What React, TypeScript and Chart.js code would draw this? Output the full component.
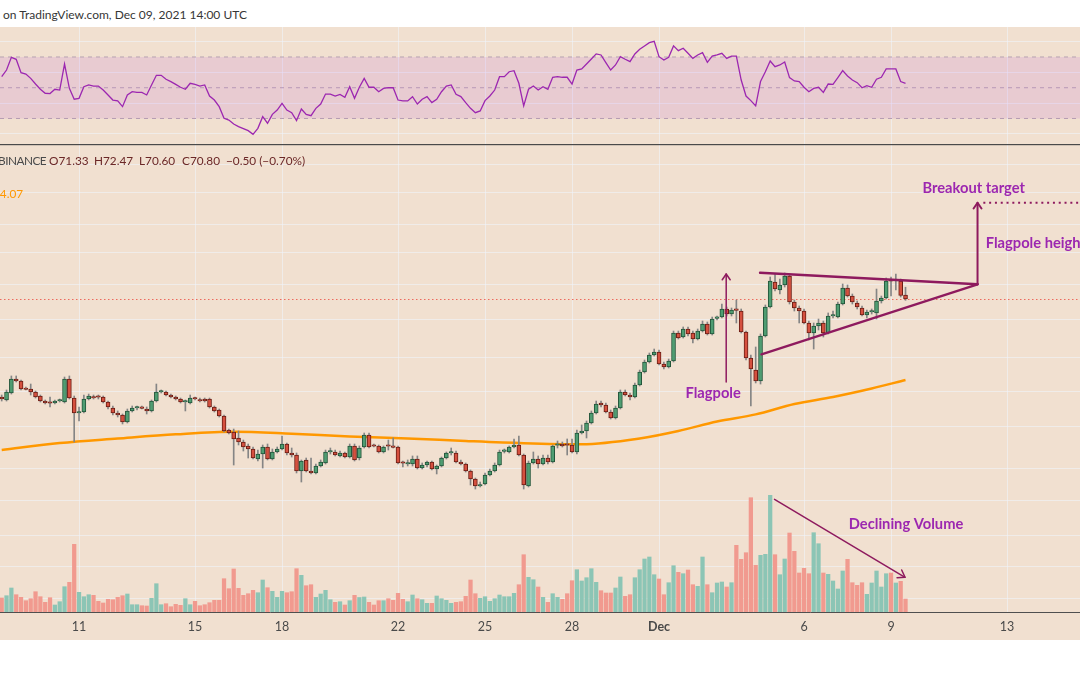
import React, { useEffect, useRef } from "react";
import { Chart, registerables } from "chart.js";

Chart.register(...registerables);

// ---- 4h candles, LUNA/USDT-like, from Nov 8 08:00 to Dec 9 12:00 (index 0..187) ----
const candleOpen = [
  56.79, 56.36, 57.36, 59.36, 59.07, 57.93, 57.93, 57.5, 56.93, 56.21,
  55.93, 55.93, 56.21, 56.07, 59.36, 56.64, 54.5, 54.64, 56.5, 56.79,
  56.79, 56.79, 56.07, 55.21, 54.5, 54.21, 53.21, 54.79, 55.21, 55.21,
  55.07, 54.79, 56.21, 57.5, 57.5, 57.07, 56.79, 56.5, 56.07, 55.93,
  56.64, 56.36, 56.5, 56.5, 55.36, 54.93, 54.07, 52.07, 51.79, 50.93,
  50.36, 49.79, 49.36, 47.93, 48.64, 49.64, 47.93, 48.93, 49.36, 50.07,
  48.79, 48.5, 46.21, 47.79, 46.21, 45.93, 46.93, 47.36, 48.93, 48.93,
  48.36, 48.79, 48.21, 49.79, 48.07, 49.64, 51.36, 49.79, 49.79, 48.93,
  49.79, 49.64, 49.64, 47.36, 47.21, 47.21, 47.93, 46.64, 47.07, 47.5,
  46.5, 46.93, 48.07, 48.79, 48.79, 47.5, 47.21, 46.21, 45.07, 44.07,
  44.36, 45.64, 46.21, 47.07, 49.02, 48.93, 49.64, 49.93, 48.5, 44.07,
  47.36, 47.93, 47.21, 48.07, 47.5, 49.89, 50.07, 49.93, 49.93, 48.93,
  51.64, 51.93, 53.07, 54.5, 55.93, 55.64, 54.64, 53.79, 55.21, 57.5,
  57.07, 56.79, 58.5, 60.36, 61.79, 62.79, 63.21, 61.5, 61.07, 61.93,
  65.93, 65.36, 66.5, 65.93, 65.07, 66.21, 67.21, 65.79, 68.02, 68.21,
  69.36, 68.64, 69.21, 69.07, 66.07, 62.36, 60.64, 59.07, 65.5, 69.64,
  73.21, 72.07, 72.79, 74.07, 70.36, 69.5, 69.07, 67.36, 65.93, 66.93,
  67.36, 65.93, 68.36, 68.21, 70.07, 72.36, 71.21, 70.21, 69.5, 68.5,
  68.93, 68.79, 70.5, 70.93, 73.36, 73.36, 73.36, 71.33,
];
const candleHigh = [
  57.07, 57.79, 59.79, 59.79, 59.21, 58.21, 58.64, 57.64, 57.07, 56.36,
  56.79, 56.36, 56.5, 59.64, 59.79, 56.93, 55.36, 57.07, 57.21, 57.07,
  57.07, 56.93, 56.21, 55.5, 54.79, 54.36, 55.07, 55.5, 55.5, 55.5,
  55.36, 56.36, 58.64, 57.79, 57.64, 57.21, 56.93, 56.64, 56.36, 57.07,
  56.79, 56.64, 56.64, 56.64, 55.5, 55.07, 54.21, 52.21, 52.21, 51.93,
  50.64, 50.07, 49.64, 49.21, 49.93, 50.07, 49.36, 49.64, 51.21, 50.21,
  49.5, 48.79, 47.79, 48.07, 48.07, 47.21, 47.79, 49.21, 49.5, 49.21,
  49.07, 48.93, 50.07, 50.07, 49.79, 51.64, 51.64, 50.07, 49.93, 49.79,
  50.64, 50.93, 49.79, 47.64, 47.79, 48.36, 48.36, 47.36, 47.64, 47.64,
  47.07, 48.21, 48.93, 49.5, 49.07, 47.79, 47.36, 46.36, 45.21, 44.64,
  45.93, 46.5, 47.36, 49.21, 49.36, 49.79, 50.79, 51.21, 48.64, 47.64,
  48.93, 48.36, 48.5, 48.5, 49.93, 50.5, 50.36, 50.79, 50.79, 52.07,
  52.79, 53.36, 54.79, 56.21, 56.21, 55.93, 54.93, 55.5, 57.79, 57.79,
  57.36, 58.79, 60.64, 62.07, 63.07, 63.64, 63.5, 61.79, 62.21, 66.21,
  66.21, 66.79, 66.79, 66.21, 66.5, 67.64, 67.5, 68.21, 68.36, 70.07,
  69.64, 69.5, 70.64, 69.36, 66.21, 62.79, 63.93, 65.79, 69.93, 73.93,
  74.36, 73.64, 74.5, 74.36, 70.64, 69.79, 69.36, 67.64, 67.36, 67.93,
  67.64, 68.79, 69.07, 70.36, 72.93, 72.79, 71.5, 70.5, 69.79, 69.21,
  69.36, 72.21, 71.21, 73.79, 73.93, 74.36, 73.64, 72.47,
];
const candleLow = [
  56.21, 56.21, 57.21, 58.93, 57.79, 57.79, 57.07, 56.64, 56.07, 55.79,
  55.36, 55.79, 56.07, 55.93, 56.5, 50.36, 53.36, 54.5, 56.36, 56.5,
  56.5, 55.93, 55.07, 54.21, 53.93, 52.93, 53.07, 54.64, 54.93, 55.07,
  54.36, 54.64, 56.07, 57.36, 56.93, 56.64, 56.36, 55.93, 54.79, 55.79,
  56.36, 56.07, 56.07, 55.21, 54.64, 53.93, 51.79, 51.5, 47.07, 49.93,
  49.07, 48.07, 47.93, 47.64, 46.64, 47.79, 47.79, 48.79, 49.21, 48.5,
  48.21, 45.93, 44.64, 46.07, 45.79, 45.79, 46.79, 47.21, 48.64, 48.36,
  48.21, 48.07, 48.07, 47.64, 47.79, 49.5, 49.5, 49.64, 48.79, 48.79,
  49.21, 49.5, 47.21, 46.79, 46.93, 46.93, 46.5, 46.5, 46.79, 46.36,
  45.79, 46.79, 47.93, 48.5, 47.36, 47.07, 46.07, 44.21, 43.64, 43.93,
  44.21, 45.5, 46.07, 46.93, 48.79, 48.79, 49.5, 48.36, 43.64, 43.93,
  47.21, 46.64, 47.07, 47.21, 47.36, 49.5, 49.64, 48.5, 48.79, 48.64,
  51.5, 50.93, 52.93, 54.36, 55.36, 54.5, 53.64, 53.64, 55.07, 56.93,
  56.36, 56.64, 58.36, 60.21, 61.64, 62.64, 61.36, 60.79, 60.93, 61.79,
  65.07, 65.21, 65.5, 64.5, 64.93, 66.07, 65.64, 65.64, 67.79, 68.07,
  68.36, 68.36, 67.36, 65.93, 62.07, 55.5, 58.79, 58.64, 65.36, 69.5,
  71.93, 71.5, 72.5, 70.07, 69.07, 67.36, 67.21, 64.93, 63.64, 66.36,
  65.36, 65.79, 68.07, 68.07, 69.93, 71.07, 70.07, 69.36, 68.36, 68.07,
  68.64, 67.93, 70.21, 70.79, 71.21, 72.07, 71.07, 70.6,
];
const candleClose = [
  56.5, 57.5, 59.36, 59.07, 57.93, 57.86, 57.5, 56.79, 56.21, 55.93,
  55.89, 56.21, 56.25, 59.36, 56.64, 54.5, 54.64, 56.5, 56.93, 56.64,
  56.75, 56.07, 55.36, 54.5, 54.21, 53.21, 54.79, 55.21, 55.25, 55.17,
  54.79, 56.21, 57.5, 57.54, 57.07, 56.79, 56.5, 56.07, 56.11, 56.64,
  56.5, 56.21, 56.21, 55.36, 54.79, 54.07, 51.93, 51.64, 50.79, 50.36,
  49.64, 49.36, 48.07, 48.64, 49.64, 47.93, 48.93, 49.36, 50.07, 48.79,
  48.5, 46.21, 47.64, 46.21, 45.93, 46.93, 47.5, 48.93, 48.98, 48.5,
  48.79, 48.21, 49.79, 47.79, 49.5, 51.36, 49.64, 49.75, 48.93, 49.64,
  49.75, 49.6, 47.36, 47.32, 47.25, 47.93, 46.64, 47.07, 47.5, 46.5,
  46.93, 48.07, 48.79, 48.83, 47.5, 47.21, 46.21, 45.07, 44.07, 44.29,
  45.64, 46.21, 47.07, 48.93, 49.07, 49.64, 49.93, 48.5, 44.21, 47.36,
  47.93, 47.21, 48.07, 47.5, 49.79, 49.93, 49.79, 49.89, 48.93, 51.64,
  51.93, 53.07, 54.5, 55.79, 55.64, 54.64, 53.79, 55.21, 57.5, 57.07,
  56.79, 58.5, 60.36, 61.79, 62.79, 63.21, 61.5, 61.07, 61.93, 65.93,
  65.21, 66.5, 65.79, 65.07, 66.21, 67.21, 65.79, 67.93, 68.07, 69.36,
  68.64, 69.21, 69.17, 66.07, 62.36, 60.79, 59.07, 65.5, 69.64, 73.36,
  72.21, 72.79, 74.07, 70.36, 69.5, 69.07, 67.36, 65.93, 66.93, 67.36,
  65.93, 68.36, 68.4, 70.07, 72.36, 71.21, 70.36, 69.64, 68.5, 68.93,
  68.98, 70.5, 70.93, 73.36, 73.32, 73.4, 71.3, 70.8,
];
const volume = [
  280, 326, 480, 346, 294, 226, 266, 406, 306, 194,
  286, 140, 206, 506, 594, 1354, 394, 306, 346, 334,
  214, 180, 254, 246, 294, 326, 360, 146, 146, 126,
  120, 274, 566, 146, 166, 106, 154, 134, 266, 146,
  214, 126, 146, 186, 234, 234, 666, 466, 860, 474,
  334, 366, 434, 386, 640, 486, 414, 294, 414, 386,
  406, 866, 734, 526, 546, 294, 360, 434, 246, 194,
  206, 140, 226, 334, 290, 300, 194, 140, 226, 226,
  266, 234, 374, 254, 206, 340, 266, 246, 174, 174,
  320, 266, 234, 174, 194, 206, 314, 640, 366, 274,
  306, 214, 266, 340, 306, 306, 374, 546, 1146, 694,
  646, 500, 294, 194, 366, 294, 254, 366, 626, 846,
  620, 686, 866, 594, 426, 380, 380, 480, 700, 314,
  346, 686, 846, 1060, 1100, 746, 660, 346, 586, 926,
  794, 766, 840, 546, 514, 1100, 546, 386, 580, 600,
  500, 586, 1334, 1054, 1186, 2286, 934, 1134, 1154, 2334,
  1146, 746, 1060, 1580, 1214, 780, 874, 766, 1586, 1366,
  780, 754, 620, 460, 820, 1054, 586, 534, 586, 354,
  580, 820, 500, 766, 780, 580, 614, 260,
];
const rsiValues = [
  57.2, 61.5, 69.8, 68.5, 59.8, 58.9, 56.1, 52.4, 49.0, 46.4,
  46.2, 49.0, 48.5, 65.4, 49.6, 42.5, 43.1, 50.7, 51.8, 51.1,
  51.1, 48.5, 45.3, 42.0, 41.4, 37.7, 45.3, 47.4, 47.0, 47.0,
  45.3, 51.8, 58.1, 58.1, 55.5, 54.0, 52.2, 50.3, 49.0, 52.9,
  52.2, 51.1, 51.8, 44.6, 42.0, 37.7, 30.1, 29.0, 26.4, 24.7,
  23.4, 22.1, 19.7, 23.6, 31.2, 26.9, 32.7, 35.5, 39.9, 35.5,
  33.8, 28.6, 36.2, 32.7, 31.8, 36.6, 39.4, 45.9, 45.9, 44.6,
  45.7, 43.8, 50.7, 43.1, 50.3, 56.1, 50.3, 50.3, 47.4, 49.6,
  50.0, 50.0, 42.0, 41.4, 41.4, 44.2, 39.4, 42.5, 44.2, 40.3,
  42.5, 47.4, 51.1, 51.8, 45.7, 44.2, 40.3, 36.6, 33.8, 34.9,
  41.6, 44.6, 48.5, 57.2, 57.2, 60.4, 61.1, 52.9, 38.2, 49.0,
  51.1, 48.5, 50.7, 49.0, 56.8, 57.2, 56.8, 56.8, 52.4, 61.5,
  62.2, 65.4, 68.7, 72.0, 71.3, 66.3, 61.5, 64.8, 70.2, 68.5,
  67.0, 72.0, 75.0, 77.2, 79.3, 80.2, 70.2, 68.0, 69.8, 77.2,
  74.1, 75.7, 72.4, 69.1, 71.3, 72.8, 66.5, 70.6, 71.3, 72.4,
  69.1, 70.6, 70.6, 55.0, 44.6, 41.6, 38.2, 54.0, 60.4, 67.4,
  63.7, 64.8, 66.7, 56.6, 54.4, 54.0, 50.3, 47.4, 49.6, 50.3,
  47.0, 52.4, 52.2, 56.6, 61.1, 57.6, 55.0, 53.3, 50.0, 51.3,
  50.3, 55.5, 56.8, 62.2, 62.2, 62.2, 54.0, 52.9,
];
// moving average (orange), sampled once per day
const maIndex = [0, 12, 24, 36, 48, 60, 72, 84, 96, 108, 120, 132, 140, 148, 156, 164, 172, 180, 187];
const maValue = [49.21, 50.21, 50.86, 51.46, 51.83, 51.54, 51.14, 50.87, 50.5, 50.19, 50.04, 50.86, 51.93, 53.29, 54.3, 55.79, 56.79, 58.0, 59.21];
const maLegend = "54.07";

// x-axis day ticks (candle index of 00:00 UTC)
const tickIndex = [16, 40, 58, 82, 100, 118, 136, 166, 184, 208];
const tickLabels = ["11", "15", "18", "22", "25", "28", "Dec", "6", "9", "13"];
const priceGrid = [90.07, 85.93, 81.36, 77.36, 72.79, 67.79, 62.5, 57.5, 52.5, 46.64, 41.93, 36.93, 32.64, 28.07];
const rsiGrid = [20, 40, 60, 80];
const rsiLevels = [70, 50, 30];

// drawn annotations, in (candle index, price) / (candle index, volume)
const flagpoleArrow = { at: 149.9, from: 58.93, to: 74.36 };
const pennantUpper = [[156.9, 74.54], [201.9, 72.89]];
const pennantLower = [[157.2, 62.89], [201.9, 72.89]];
const heightArrow = { at: 201.9, from: 72.89, to: 84.54 };
const targetLine = { from: 203.1, price: 84.54 };
const volumeArrow = [[159.9, 2254], [186.9, 694]];
const noteFlagpole = { text: "Flagpole", at: 147.2, price: 57.36 };
const noteBreakout = { text: "Breakout target", at: 201.1, price: 86.64 };
const noteHeight = { text: "Flagpole height", at: 203.6, price: 78.79 };
const noteVolume = { text: "Declining Volume", at: 187.1, vol: 1760 };

const BG = "#f1e0d0";
const GRID = "rgba(240,243,250,0.6)";
const X_MIN = -0.352;
const X_MAX = 223.1;
const DRAW = "#8e1a5e";
const NOTE = "#9c27b0";
const FONT = "Lato, 'Open Sans', sans-serif";

function xAxis(showLabels: boolean): any {
  return {
    type: "linear",
    min: X_MIN,
    max: X_MAX,
    offset: false,
    afterBuildTicks: (s: any) => {
      s.ticks = tickIndex.map((v) => ({ value: v }));
    },
    afterFit: (s: any) => {
      s.height = showLabels ? 28 : 0;
    },
    grid: { color: GRID, lineWidth: 1, drawTicks: false, offset: false },
    border: showLabels ? { display: true, color: "#4f4f4f", width: 1 } : { display: false },
    ticks: showLabels
      ? {
          autoSkip: false,
          maxRotation: 0,
          padding: 7,
          color: "#4a4a4a",
          font: (c: any) => ({
            family: FONT,
            size: 12.5,
            weight: c.tick && tickLabels[tickIndex.indexOf(c.tick.value)] === "Dec" ? "bold" : "normal",
          }),
          callback: (v: any) => tickLabels[tickIndex.indexOf(Number(v))] ?? "",
        }
      : { display: false },
  };
}

function hiddenY(min: number, max: number, grid: number[]): any {
  return {
    type: "linear",
    position: "left",
    min,
    max,
    afterBuildTicks: (s: any) => {
      s.ticks = grid.map((v) => ({ value: v }));
    },
    afterFit: (s: any) => {
      s.width = 0;
    },
    ticks: { display: false },
    grid: { color: GRID, lineWidth: 1, drawTicks: false },
    border: { display: false },
  };
}

function chevron(ctx: CanvasRenderingContext2D, tx: number, ty: number, angle: number, size: number) {
  const a1 = angle + Math.PI - 0.6;
  const a2 = angle + Math.PI + 0.6;
  ctx.beginPath();
  ctx.moveTo(tx + Math.cos(a1) * size, ty + Math.sin(a1) * size);
  ctx.lineTo(tx, ty);
  ctx.lineTo(tx + Math.cos(a2) * size, ty + Math.sin(a2) * size);
  ctx.stroke();
}

const overlayPlugin = {
  id: "overlay",
  beforeDatasetsDraw(chart: any) {
    const { ctx, scales, chartArea } = chart;
    const y = scales.y.getPixelForValue(candleClose[candleClose.length - 1]);
    ctx.save();
    ctx.strokeStyle = "#ec6a5e";
    ctx.lineWidth = 1;
    ctx.setLineDash([1.5, 2.5]);
    ctx.beginPath();
    ctx.moveTo(chartArea.left, Math.round(y) + 0.5);
    ctx.lineTo(chartArea.right, Math.round(y) + 0.5);
    ctx.stroke();
    ctx.restore();
  },
  afterDatasetsDraw(chart: any) {
    const { ctx, scales, chartArea } = chart;
    const X = (v: number) => scales.x.getPixelForValue(v);
    const Y = (v: number) => scales.y.getPixelForValue(v);
    const V = (v: number) => scales.yv.getPixelForValue(v);
    ctx.save();
    // pane separator
    ctx.fillStyle = "#4a4a4a";
    ctx.fillRect(0, 0, chart.width, 1.2);

    ctx.strokeStyle = DRAW;
    ctx.lineCap = "round";
    ctx.lineJoin = "round";
    // pennant
    ctx.lineWidth = 2.4;
    for (const seg of [pennantUpper, pennantLower]) {
      ctx.beginPath();
      ctx.moveTo(X(seg[0][0]), Y(seg[0][1]));
      ctx.lineTo(X(seg[1][0]), Y(seg[1][1]));
      ctx.stroke();
    }
    // flagpole arrow
    ctx.lineWidth = 1.5;
    const fx = X(flagpoleArrow.at);
    ctx.beginPath();
    ctx.moveTo(fx, Y(flagpoleArrow.from));
    ctx.lineTo(fx, Y(flagpoleArrow.to));
    ctx.stroke();
    chevron(ctx, fx, Y(flagpoleArrow.to), -Math.PI / 2, 7);
    // height arrow
    ctx.lineWidth = 2;
    const hx = X(heightArrow.at);
    ctx.beginPath();
    ctx.moveTo(hx, Y(heightArrow.from));
    ctx.lineTo(hx, Y(heightArrow.to));
    ctx.stroke();
    chevron(ctx, hx, Y(heightArrow.to), -Math.PI / 2, 7);
    // target dotted line
    ctx.lineWidth = 2;
    ctx.lineCap = "butt";
    ctx.setLineDash([2, 3.8]);
    ctx.beginPath();
    ctx.moveTo(X(targetLine.from), Y(targetLine.price));
    ctx.lineTo(chartArea.right, Y(targetLine.price));
    ctx.stroke();
    ctx.setLineDash([]);
    ctx.lineCap = "round";
    // declining volume arrow
    ctx.lineWidth = 1.5;
    const ax0 = X(volumeArrow[0][0]);
    const ay0 = V(volumeArrow[0][1]);
    const ax1 = X(volumeArrow[1][0]);
    const ay1 = V(volumeArrow[1][1]);
    ctx.beginPath();
    ctx.moveTo(ax0, ay0);
    ctx.lineTo(ax1, ay1);
    ctx.stroke();
    chevron(ctx, ax1, ay1, Math.atan2(ay1 - ay0, ax1 - ax0), 8);

    // notes
    ctx.fillStyle = NOTE;
    ctx.font = "bold 14.7px " + FONT;
    ctx.textBaseline = "middle";
    ctx.textAlign = "center";
    ctx.fillText(noteFlagpole.text, X(noteFlagpole.at), Y(noteFlagpole.price));
    ctx.fillText(noteBreakout.text, X(noteBreakout.at), Y(noteBreakout.price));
    ctx.fillText(noteVolume.text, X(noteVolume.at), V(noteVolume.vol));
    ctx.textAlign = "left";
    ctx.fillText(noteHeight.text, X(noteHeight.at), Y(noteHeight.price));
    ctx.restore();
  },
};

export default function App() {
  const rsiRef = useRef<HTMLCanvasElement | null>(null);
  const mainRef = useRef<HTMLCanvasElement | null>(null);

  useEffect(() => {
    const up = candleClose.map((c, i) => c >= candleOpen[i]);

    const rsiChart = new Chart(rsiRef.current as HTMLCanvasElement, {
      type: "line",
      data: {
        datasets: [
          {
            label: "RSI",
            data: rsiValues.map((v, i) => ({ x: i, y: v })),
            borderColor: "#9c27b0",
            borderWidth: 1.3,
            pointRadius: 0,
            tension: 0,
          },
          {
            label: "upper",
            data: [{ x: X_MIN, y: rsiLevels[0] }, { x: X_MAX, y: rsiLevels[0] }],
            borderColor: "#b7a3b1",
            borderWidth: 1,
            borderDash: [4, 4],
            pointRadius: 0,
            fill: { value: rsiLevels[2] },
            backgroundColor: "rgba(180,80,220,0.14)",
          },
          {
            label: "middle",
            data: [{ x: X_MIN, y: rsiLevels[1] }, { x: X_MAX, y: rsiLevels[1] }],
            borderColor: "#b7a3b1",
            borderWidth: 1,
            borderDash: [4, 4],
            pointRadius: 0,
          },
          {
            label: "lower",
            data: [{ x: X_MIN, y: rsiLevels[2] }, { x: X_MAX, y: rsiLevels[2] }],
            borderColor: "#b7a3b1",
            borderWidth: 1,
            borderDash: [4, 4],
            pointRadius: 0,
          },
        ],
      } as any,
      options: {
        responsive: false,
        animation: false,
        events: [],
        layout: { padding: 0 },
        plugins: { legend: { display: false }, tooltip: { enabled: false } },
        scales: {
          x: xAxis(false),
          y: hiddenY(13.4, 89.5, rsiGrid),
        },
      } as any,
    });

    const mainChart = new Chart(mainRef.current as HTMLCanvasElement, {
      type: "bar",
      data: {
        datasets: [
          {
            type: "bar",
            label: "body",
            data: candleOpen.map((o, i) => ({ x: i, y: [o, candleClose[i]] })),
            backgroundColor: up.map((u) => (u ? "#4f9d72" : "#d5503f")),
            borderColor: up.map((u) => (u ? "#22553a" : "#6a1d14")),
            borderWidth: 1,
            borderSkipped: false,
            barThickness: 4,
            minBarLength: 1.5,
            grouped: false,
            yAxisID: "y",
          },
          {
            type: "bar",
            label: "wick",
            data: candleLow.map((l, i) => ({ x: i, y: [l, candleHigh[i]] })),
            backgroundColor: "#858585",
            borderWidth: 0,
            barThickness: 1,
            grouped: false,
            yAxisID: "y",
          },
          {
            type: "line",
            label: "MA",
            data: maIndex.map((x, k) => ({ x, y: maValue[k] })),
            borderColor: "#ff9800",
            borderWidth: 2.5,
            pointRadius: 0,
            cubicInterpolationMode: "monotone",
            yAxisID: "y",
          },
          {
            type: "bar",
            label: "Volume",
            data: volume.map((v, i) => ({ x: i, y: v })),
            backgroundColor: up.map((u) => (u ? "#8cc5b5" : "#f19a8f")),
            borderWidth: 0,
            barThickness: 3.6,
            grouped: false,
            yAxisID: "yv",
          },
        ],
      } as any,
      options: {
        responsive: false,
        animation: false,
        events: [],
        layout: { padding: 0 },
        plugins: { legend: { display: false }, tooltip: { enabled: false } },
        scales: {
          x: xAxis(true),
          y: hiddenY(26.07, 92.93, priceGrid),
          yv: { type: "linear", position: "right", display: false, min: 0, max: 9360 },
        },
      } as any,
      plugins: [overlayPlugin as any],
    });

    return () => {
      rsiChart.destroy();
      mainChart.destroy();
    };
  }, []);

  const n = candleClose.length - 1;
  const chg = candleClose[n] - candleClose[n - 1];
  const pct = (chg / candleClose[n - 1]) * 100;
  const fmt = (v: number) => (v < 0 ? "\u2212" : "") + Math.abs(v).toFixed(2);
  const legendStyle: React.CSSProperties = {
    position: "absolute",
    top: 153,
    fontSize: 11.8,
    whiteSpace: "nowrap",
    color: "#6b2727",
  };

  return (
    <div
      style={{
        position: "fixed",
        left: 0,
        top: 0,
        width: 1080,
        height: 675,
        background: "#ffffff",
        overflow: "hidden",
        fontFamily: FONT,
      }}
    >
      <div style={{ position: "absolute", left: 3, top: 7, fontSize: 12, color: "#363636", whiteSpace: "nowrap" }}>
        on TradingView.com, Dec 09, 2021 14:00 UTC
      </div>
      <div style={{ position: "absolute", left: 0, top: 27, width: 1080, height: 613, background: BG }} />
      <canvas ref={rsiRef} width={1080} height={117} style={{ position: "absolute", left: 0, top: 27 }} />
      <canvas ref={mainRef} width={1080} height={496} style={{ position: "absolute", left: 0, top: 144 }} />
      <div style={{ ...legendStyle, left: -2, letterSpacing: -0.5, color: "#4a4a4a" }}>BINANCE</div>
      <div style={{ ...legendStyle, left: 49 }}>O{candleOpen[n].toFixed(2)}</div>
      <div style={{ ...legendStyle, left: 94 }}>H{candleHigh[n].toFixed(2)}</div>
      <div style={{ ...legendStyle, left: 139 }}>L{candleLow[n].toFixed(2)}</div>
      <div style={{ ...legendStyle, left: 182 }}>C{candleClose[n].toFixed(2)}</div>
      <div style={{ ...legendStyle, left: 226 }}>
        {fmt(chg)} ({fmt(pct)}%)
      </div>
      <div style={{ ...legendStyle, top: 186, left: -7, color: "#ff9800" }}>{maLegend}</div>
    </div>
  );
}
